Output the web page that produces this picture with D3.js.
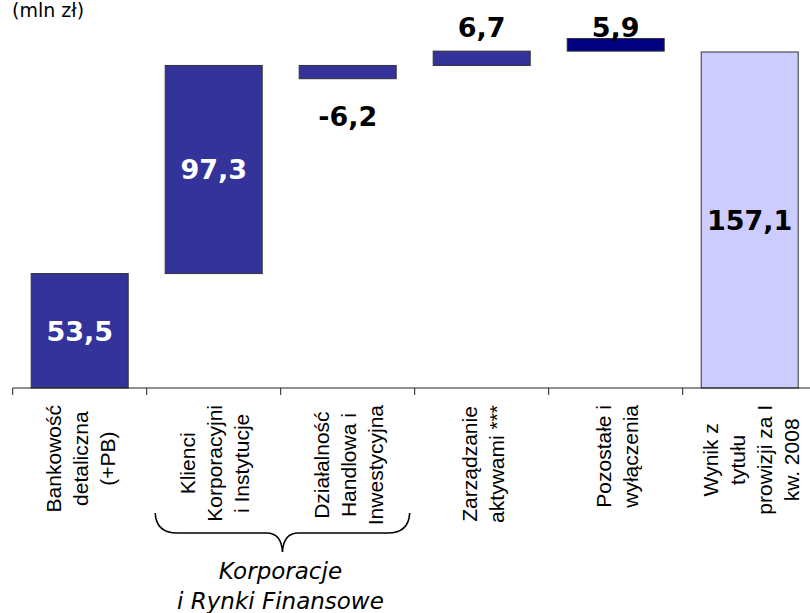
<!DOCTYPE html>
<html>
<head>
<meta charset="utf-8">
<script src="https://cdn.jsdelivr.net/npm/d3@7/dist/d3.min.js"></script>
<style>
  html, body { margin: 0; padding: 0; background: #fff; }
  svg { display: block; }
</style>
</head>
<body>
<svg id="chart" width="810" height="613"></svg>
<script>
// ---- data ----
const categories = [
  ["Bankowość", "detaliczna", "(+PB)"],
  ["Klienci", "Korporacyjni", "i Instytucje"],
  ["Działalność", "Handlowa i", "Inwestycyjna"],
  ["Zarządzanie", "aktywami ***"],
  ["Pozostałe i", "wyłączenia"],
  ["Wynik z", "tytułu", "prowizji za I", "kw. 2008"]
];
const values = [53.5, 97.3, -6.2, 6.7, 5.9, 157.1];
const barStart = [0, 53.5, 150.8, 150.8, 157.5, 0];
const valueLabels = ["53,5", "97,3", "-6,2", "6,7", "5,9", "157,1"];
const unitLabel = "(mln zł)";
const groupLabel = ["Korporacje", "i Rynki Finansowe"];
const groupRange = [1, 2]; // category indices covered by brace

// ---- styles ----
const barFill = ["#333399", "#333399", "#333399", "#333399", "#000080", "#CCCCFF"];

const svg = d3.select("#chart");
const keys = categories.map((c, i) => i);

const x = d3.scaleBand()
  .domain(keys)
  .range([12.7, 816.7])
  .paddingInner(0.276)
  .paddingOuter(0.138);

const y = d3.scaleLinear().domain([0, 180]).range([388, 3]);

// unit label
svg.append("text")
  .attr("x", 12).attr("y", 17)
  .attr("font-family", "DejaVu Sans, Verdana, sans-serif")
  .attr("font-size", 19)
  .attr("fill", "#000")
  .text(unitLabel);

// bars
svg.append("g").selectAll("rect")
  .data(keys)
  .join("rect")
  .attr("x", i => x(i))
  .attr("width", x.bandwidth())
  .attr("y", i => y(Math.max(barStart[i], barStart[i] + values[i])))
  .attr("height", i => Math.abs(y(barStart[i]) - y(barStart[i] + values[i])))
  .attr("fill", i => barFill[i])
  .attr("stroke", "#333")
  .attr("stroke-width", 1);

// x axis
const step = x.step();
const boundaries = keys.map(i => x(i) - x.paddingOuter() * step);
const axisG = svg.append("g").attr("transform", "translate(0,388)");
axisG.append("line")
  .attr("x1", boundaries[0]).attr("x2", 816.7)
  .attr("y1", 0).attr("y2", 0)
  .attr("stroke", "#222").attr("stroke-width", 1.2);
axisG.selectAll("line.tick")
  .data(boundaries)
  .join("line")
  .attr("class", "tick")
  .attr("x1", d => d).attr("x2", d => d)
  .attr("y1", 0).attr("y2", 7)
  .attr("stroke", "#222").attr("stroke-width", 1);

// value labels
const labelFont = "DejaVu Sans, Verdana, sans-serif";
const aboveBaseline = y(d3.max(keys, i => barStart[i] + values[i])) - 2;
svg.append("g").selectAll("text")
  .data(keys)
  .join("text")
  .attr("font-family", labelFont)
  .attr("font-weight", "bold")
  .attr("font-size", 27)
  .attr("text-anchor", "middle")
  .attr("x", i => x(i) + x.bandwidth() / 2)
  .each(function(i) {
    const top = y(Math.max(barStart[i], barStart[i] + values[i]));
    const bot = y(Math.min(barStart[i], barStart[i] + values[i]));
    const h = bot - top;
    const t = d3.select(this);
    if (h > 40) {
      t.attr("y", (top + bot) / 2).attr("dy", "0.36em")
       .attr("fill", barFill[i] === "#CCCCFF" ? "#000" : "#fff");
    } else if (values[i] < 0) {
      t.attr("y", bot + 47.5).attr("fill", "#000");
    } else {
      t.attr("y", aboveBaseline).attr("fill", "#000");
    }
  })
  .text(i => valueLabels[i]);

// category labels (rotated)
const catFont = "Liberation Sans, Arial, sans-serif";
const lineGap = 27;
const labelTop = 405;
const catG = svg.append("g");
keys.forEach(i => {
  const cx = x(i) + x.bandwidth() / 2;
  const lines = categories[i];
  const n = lines.length;
  const g = catG.append("g");
  const texts = lines.map((ln, j) => g.append("text")
    .attr("font-family", catFont)
    .attr("font-size", 21)
    .attr("fill", "#000")
    .attr("text-anchor", "middle")
    .attr("dominant-baseline", "central")
    .text(ln));
  const maxLen = d3.max(texts, t => t.node().getComputedTextLength());
  const cy = labelTop + maxLen / 2;
  texts.forEach((t, j) => {
    const lx = cx + (j - (n - 1) / 2) * lineGap + 1;
    t.attr("transform", `translate(${lx},${cy}) rotate(-90)`);
  });
});

// brace under grouped categories
const bx0 = boundaries[groupRange[0]] + 8.5;
const bx1 = boundaries[groupRange[1]] + step - 5;
const bm = (bx0 + bx1) / 2;
const byTop = 513, byMid = 533, byTip = 552;
const bracePath = d3.path();
bracePath.moveTo(bx0, byTop);
bracePath.quadraticCurveTo(bx0 + 1, byMid, bx0 + 22, byMid);
bracePath.lineTo(bm - 16, byMid);
bracePath.quadraticCurveTo(bm - 1, byMid, bm, byTip);
bracePath.quadraticCurveTo(bm + 1, byMid, bm + 16, byMid);
bracePath.lineTo(bx1 - 22, byMid);
bracePath.quadraticCurveTo(bx1 - 1, byMid, bx1, byTop);
svg.append("path")
  .attr("d", bracePath.toString())
  .attr("fill", "none")
  .attr("stroke", "#000")
  .attr("stroke-width", 1.6);

// group label
svg.append("g").selectAll("text")
  .data(groupLabel)
  .join("text")
  .attr("x", bm - 2)
  .attr("y", (d, j) => 579 + j * 29.5)
  .attr("text-anchor", "middle")
  .attr("font-family", "DejaVu Sans, Verdana, sans-serif")
  .attr("font-style", "italic")
  .attr("font-size", 23)
  .attr("fill", "#000")
  .text(d => d);
</script>
</body>
</html>
